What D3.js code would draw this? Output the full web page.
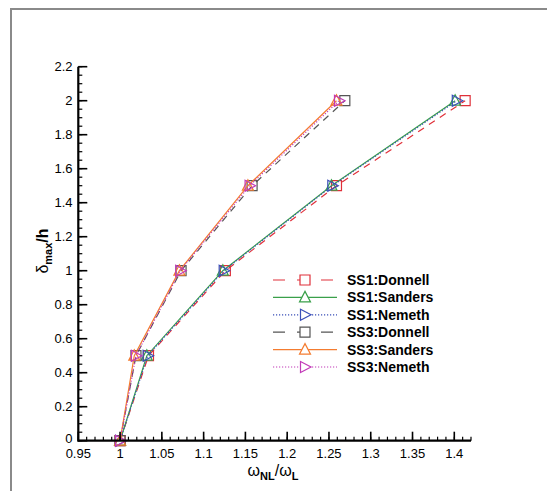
<!DOCTYPE html>
<html><head><meta charset="utf-8">
<script src="https://cdn.jsdelivr.net/npm/d3@7"></script>
<style>body{margin:0;background:#fff}svg{display:block}</style>
</head><body>
<svg id="c" width="547" height="491"></svg>
<script>
const deflection = [0, 0.5, 1.0, 1.5, 2.0];
const ss1Donnell = [1.0, 1.034, 1.126, 1.259, 1.413];
const ss1Sanders = [1.0, 1.032, 1.123, 1.253, 1.401];
const ss1Nemeth  = [1.0, 1.033, 1.124, 1.254, 1.403];
const ss3Donnell = [1.0, 1.019, 1.073, 1.158, 1.269];
const ss3Sanders = [1.0, 1.017, 1.071, 1.153, 1.259];
const ss3Nemeth  = [1.0, 1.019, 1.072, 1.155, 1.262];
const seriesNames = ["SS1:Donnell","SS1:Sanders","SS1:Nemeth","SS3:Donnell","SS3:Sanders","SS3:Nemeth"];
const xTicks = [0.95,1,1.05,1.1,1.15,1.2,1.25,1.3,1.35,1.4];
const yTicks = [0,0.2,0.4,0.6,0.8,1,1.2,1.4,1.6,1.8,2,2.2];

const styles = [
  {color:"#e0303a", dash:"7,6", marker:"square"},
  {color:"#3aa04a", dash:null, marker:"tri"},
  {color:"#3a4fb8", dash:"1.2,1.8", marker:"rtri"},
  {color:"#555555", dash:"7,6", marker:"square"},
  {color:"#f47c30", dash:null, marker:"tri"},
  {color:"#c23ab8", dash:"1.2,1.8", marker:"rtri"}
];
const seriesValues = [ss1Donnell, ss1Sanders, ss1Nemeth, ss3Donnell, ss3Sanders, ss3Nemeth];

const svg = d3.select("#c");
svg.append("path").attr("d","M11,491 L11,9 L547,9").attr("fill","none").attr("stroke","#8a8a8a").attr("stroke-width",2);

const x = d3.scaleLinear().domain([0.95,1.42]).range([78.3,471]);
const y = d3.scaleLinear().domain([0,2.2]).range([440.7,66.7]);

function markerPath(type, s){
  if(type==="square") return `M${-s/2},${-s/2}h${s}v${s}h${-s}Z`;
  if(type==="tri") return `M0,${-s*0.6}L${s*0.55},${s*0.45}L${-s*0.55},${s*0.45}Z`;
  return `M${-s*0.45},${-s*0.55}L${s*0.6},0L${-s*0.45},${s*0.55}Z`;
}

const g = svg.append("g");
seriesValues.forEach((vals, i) => {
  const st = styles[i];
  const pts = vals.map((v,j)=>[v, deflection[j]]);
  g.append("path").datum(pts)
    .attr("d", d3.line().x(d=>x(d[0])).y(d=>y(d[1])))
    .attr("fill","none").attr("stroke",st.color).attr("stroke-width",1.2)
    .attr("stroke-dasharray", st.dash);
  g.selectAll(null).data(pts).enter().append("path")
    .attr("transform", d=>`translate(${x(d[0])},${y(d[1])})`)
    .attr("d", markerPath(st.marker, 10))
    .attr("fill","none").attr("stroke",st.color).attr("stroke-width",1.2);
});

const xMinor = d3.range(95,143).map(v=>v/100);
const yMinor = d3.range(0,45).map(v=>v*0.05);
const ax = svg.append("g");
ax.selectAll(null).data(xMinor).enter().append("line")
  .attr("x1",d=>x(d)).attr("x2",d=>x(d)).attr("y1",y(0)).attr("y2",y(0)-4)
  .attr("stroke","#000").attr("stroke-width",1.2);
ax.selectAll(null).data(xTicks).enter().append("line")
  .attr("x1",d=>x(d)).attr("x2",d=>x(d)).attr("y1",y(0)).attr("y2",y(0)-9)
  .attr("stroke","#000").attr("stroke-width",1.6);
ax.selectAll(null).data(yMinor).enter().append("line")
  .attr("y1",d=>y(d)).attr("y2",d=>y(d)).attr("x1",x(0.95)).attr("x2",x(0.95)+4)
  .attr("stroke","#000").attr("stroke-width",1.2);
ax.selectAll(null).data(yTicks).enter().append("line")
  .attr("y1",d=>y(d)).attr("y2",d=>y(d)).attr("x1",x(0.95)).attr("x2",x(0.95)+9)
  .attr("stroke","#000").attr("stroke-width",1.6);
ax.append("line").attr("x1",x(0.95)).attr("x2",x(1.42)).attr("y1",y(0)).attr("y2",y(0)).attr("stroke","#000").attr("stroke-width",2.2);
ax.append("line").attr("x1",x(0.95)).attr("x2",x(0.95)).attr("y1",y(0)+1).attr("y2",y(2.2)).attr("stroke","#000").attr("stroke-width",2.2);

const fmt = d=>String(+d.toFixed(2));
ax.selectAll(null).data(xTicks).enter().append("text")
  .attr("x",d=>x(d)).attr("y",458).attr("text-anchor","middle")
  .attr("font-family","Liberation Sans, Arial, sans-serif").attr("font-size",13).text(fmt);
ax.selectAll(null).data(yTicks).enter().append("text")
  .attr("x",72.5).attr("y",d=>y(d)+(d===0?2.2:4.7)).attr("text-anchor","end")
  .attr("font-family","Liberation Sans, Arial, sans-serif").attr("font-size",13).text(fmt);

const xt = svg.append("text").attr("x",273).attr("y",476).attr("text-anchor","middle")
  .attr("font-family","Liberation Sans, Arial, sans-serif").attr("font-size",16);
xt.append("tspan").text("ω");
xt.append("tspan").attr("font-size",11).attr("font-weight","bold").attr("dy",4).text("NL");
xt.append("tspan").attr("dy",-4).text("/ω");
xt.append("tspan").attr("font-size",11).attr("font-weight","bold").attr("dy",4).text("L");

const yt = svg.append("text").attr("transform","translate(48,251) rotate(-90)").attr("text-anchor","middle")
  .attr("font-family","Liberation Sans, Arial, sans-serif").attr("font-size",16);
yt.append("tspan").text("δ");
yt.append("tspan").attr("font-size",11).attr("font-weight","bold").attr("dy",4).text("max");
yt.append("tspan").attr("dy",-4).attr("font-weight","bold").text("/h");

const leg = svg.append("g");
seriesNames.forEach((name,i)=>{
  const st = styles[i];
  const ly = 280 + i*17.4;
  leg.append("line").attr("x1",273).attr("x2",337).attr("y1",ly).attr("y2",ly)
    .attr("stroke",st.color).attr("stroke-width",1.2)
    .attr("stroke-dasharray", st.dash ? (st.dash==="7,6"?"12,12":"1.2,1.8") : null);
  leg.append("path").attr("transform",`translate(305,${ly})`).attr("d",markerPath(st.marker,10))
    .attr("fill","#fff").attr("stroke",st.color).attr("stroke-width",1.2);
  leg.append("text").attr("x",347).attr("y",ly+5).attr("font-family","Liberation Sans, Arial, sans-serif")
    .attr("font-weight","bold").attr("font-size",14).text(name);
});
</script>
</body></html>
